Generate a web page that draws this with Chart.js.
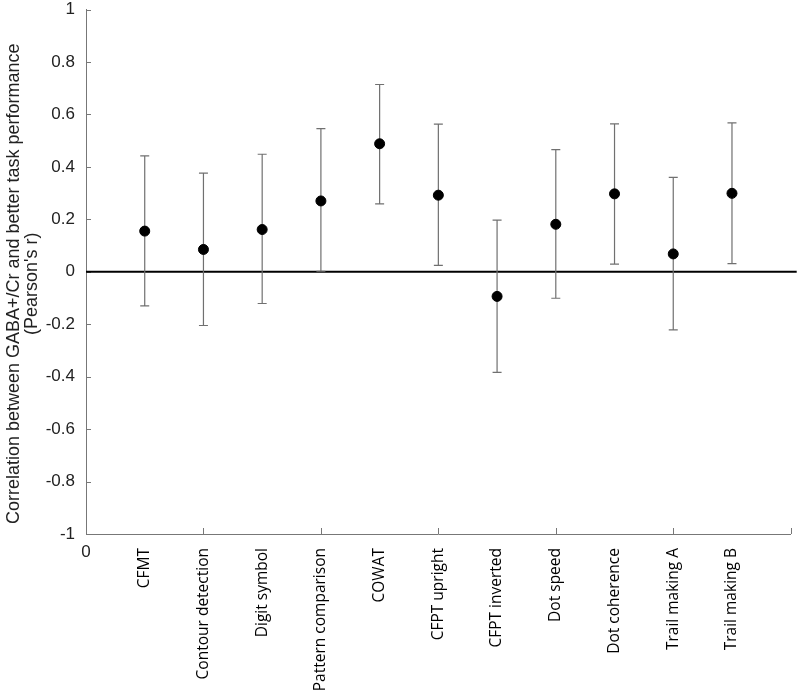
<!DOCTYPE html>
<html>
<head>
<meta charset="utf-8">
<script src="https://cdn.jsdelivr.net/npm/chart.js@4"></script>
<style>
  html, body { margin: 0; padding: 0; background: #fff; }
  #wrap { width: 800px; height: 692px; position: relative; }
</style>
</head>
<body>
<div id="wrap"><canvas id="c" width="800" height="692"></canvas></div>
<script>
const categories = ['CFMT', 'Contour detection', 'Digit symbol', 'Pattern comparison', 'COWAT',
  'CFPT upright', 'CFPT inverted', 'Dot speed', 'Dot coherence', 'Trail making A', 'Trail making B'];
const rValues = [0.155, 0.085, 0.161, 0.270, 0.488, 0.292, -0.094, 0.181, 0.297, 0.068, 0.299];
const ciLower = [-0.130, -0.205, -0.121, 0.002, 0.259, 0.024, -0.384, -0.101, 0.029, -0.222, 0.031];
const ciUpper = [0.442, 0.376, 0.448, 0.546, 0.714, 0.563, 0.197, 0.466, 0.564, 0.360, 0.568];
const yTickValues = [-1, -0.8, -0.6, -0.4, -0.2, 0, 0.2, 0.4, 0.6, 0.8, 1];
const xTickMarks = [2, 4, 6, 8, 10, 12];
const xZeroLabel = '0';
const yTitle = ['Correlation between GABA+/Cr and better task performance', "(Pearson's r)"];

const points = rValues.map((v, i) => ({ x: i + 1, y: v }));

const decorPlugin = {
  id: 'decor',
  beforeDatasetsDraw(chart) {
    const ctx = chart.ctx;
    const xs = chart.scales.x, ys = chart.scales.y;
    const area = chart.chartArea;
    ctx.save();
    // inward tick marks on y axis
    ctx.strokeStyle = '#777';
    ctx.lineWidth = 1;
    yTickValues.forEach(v => {
      const y = Math.round(ys.getPixelForValue(v)) + 0.5;
      ctx.beginPath();
      ctx.moveTo(area.left, y);
      ctx.lineTo(area.left + 5, y);
      ctx.stroke();
    });
    // inward tick marks on x axis
    xTickMarks.forEach(v => {
      const x = Math.round(xs.getPixelForValue(v)) + 0.5;
      ctx.beginPath();
      ctx.moveTo(x, area.bottom);
      ctx.lineTo(x, area.bottom - 6);
      ctx.stroke();
    });
    // zero reference line
    const y0 = ys.getPixelForValue(0);
    ctx.strokeStyle = '#000';
    ctx.lineWidth = 2;
    ctx.beginPath();
    ctx.moveTo(area.left, y0);
    ctx.lineTo(area.right + 6, y0);
    ctx.stroke();
    // error bars
    ctx.strokeStyle = '#707070';
    ctx.lineWidth = 1.2;
    rValues.forEach((v, i) => {
      const x = xs.getPixelForValue(i + 1);
      const yl = ys.getPixelForValue(ciLower[i]);
      const yu = ys.getPixelForValue(ciUpper[i]);
      ctx.beginPath();
      ctx.moveTo(x, yl); ctx.lineTo(x, yu);
      ctx.moveTo(x - 4.5, yl); ctx.lineTo(x + 4.5, yl);
      ctx.moveTo(x - 4.5, yu); ctx.lineTo(x + 4.5, yu);
      ctx.stroke();
    });
    // "0" label at x origin
    ctx.fillStyle = '#222';
    ctx.font = '17px "Liberation Sans", Arial, sans-serif';
    ctx.textAlign = 'center';
    ctx.textBaseline = 'top';
    ctx.fillText(xZeroLabel, xs.getPixelForValue(0), area.bottom + 10);
    // y axis title (two lines, rotated)
    const cy = (ys.top + ys.bottom) / 2 + 12;
    ctx.translate(0, cy);
    ctx.rotate(-Math.PI / 2);
    ctx.font = '18px "Liberation Sans", Arial, sans-serif';
    ctx.textBaseline = 'middle';
    ctx.fillText(yTitle[0], 0, 14);
    ctx.fillText(yTitle[1], 0, 32);
    ctx.restore();
  }
};

new Chart(document.getElementById('c'), {
  type: 'scatter',
  data: {
    datasets: [{
      data: points,
      backgroundColor: '#000',
      borderColor: '#000',
      pointRadius: 5,
      pointHoverRadius: 5,
      showLine: false
    }]
  },
  options: {
    responsive: false,
    animation: false,
    events: [],
    layout: { padding: { top: 9.5, right: 9.3, left: 0, bottom: 0 } },
    plugins: { legend: { display: false }, tooltip: { enabled: false } },
    scales: {
      x: {
        type: 'linear',
        min: 0, max: 12,
        grid: { display: false },
        border: { display: true, color: '#777', width: 1 },
        ticks: {
          stepSize: 1,
          autoSkip: false,
          maxRotation: 90, minRotation: 90,
          padding: 6,
          color: '#000',
          font: { family: '"Open Sans", sans-serif', size: 15.5 },
          callback: (v) => categories[v - 1] !== undefined ? categories[v - 1] : ''
        },
        afterFit(scale) { scale.height = 158; scale.paddingLeft = 0; scale.paddingRight = 0; }
      },
      y: {
        min: -1, max: 1,
        grid: { display: false },
        border: { display: true, color: '#777', width: 1 },
        afterBuildTicks(scale) { scale.ticks = yTickValues.map(v => ({ value: v })); },
        ticks: {
          padding: 3,
          color: '#222',
          font: { family: '"Liberation Sans", Arial, sans-serif', size: 17 },
          callback: (v) => String(Math.round(v * 10) / 10)
        },
        afterFit(scale) { scale.width = 86; scale.paddingTop = 0; scale.paddingBottom = 0; }
      }
    }
  },
  plugins: [decorPlugin]
});
</script>
</body>
</html>
